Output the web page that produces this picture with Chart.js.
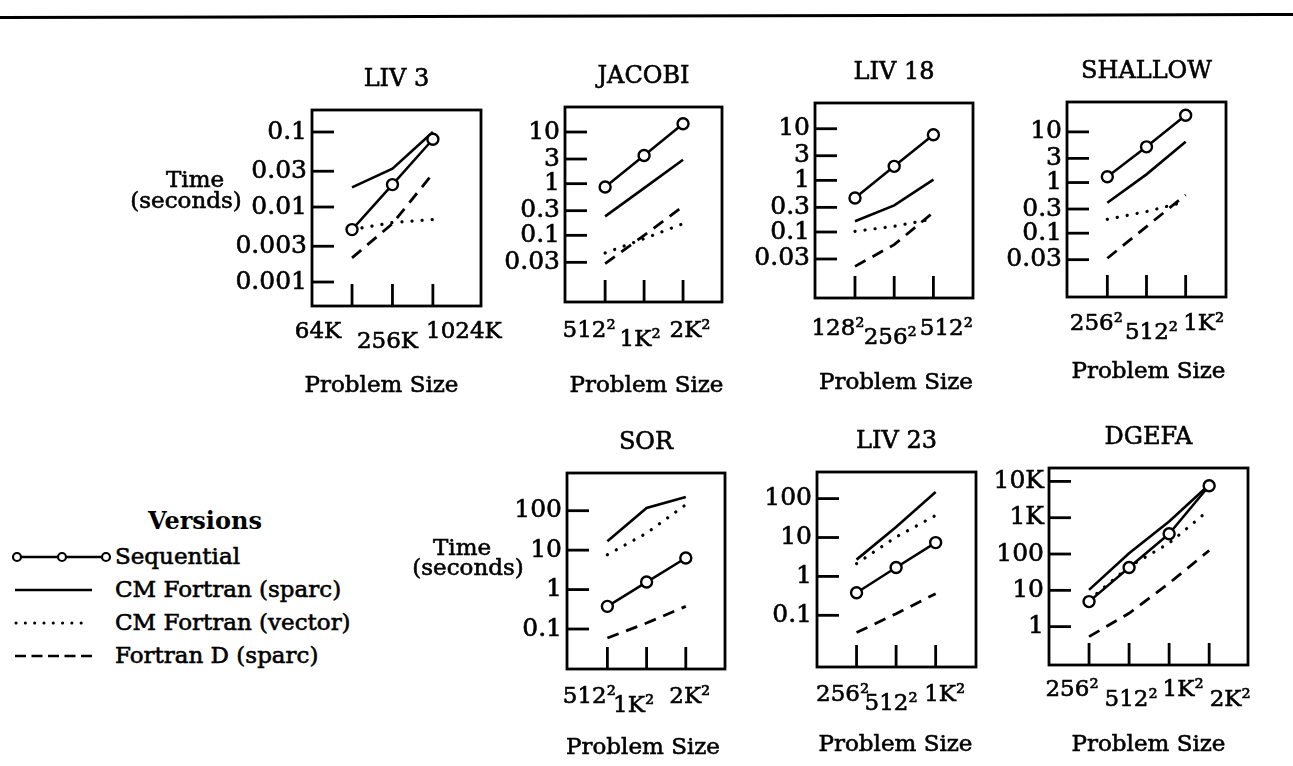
<!DOCTYPE html>
<html><head><meta charset="utf-8">
<script src="https://cdn.jsdelivr.net/npm/chart.js@4.4.1/dist/chart.umd.min.js"></script>
<style>
html,body{margin:0;padding:0;background:#fff;}
#page{position:relative;width:1293px;height:766px;overflow:hidden;background:#fff;font-family:"DejaVu Serif",serif;color:#000;}
canvas.panel{position:absolute;left:0;top:0;}
.lg{position:absolute;font-size:23px;white-space:nowrap;line-height:1;-webkit-text-stroke:0.6px #000;}
#lgTitle{position:absolute;font-size:24px;font-weight:bold;white-space:nowrap;line-height:1;}
svg{position:absolute;left:0;top:0;}
</style></head><body>
<div id="page">
<svg width="1293" height="766" id="deco">
  <line x1="0" y1="17.5" x2="1293" y2="14.5" stroke="#000" stroke-width="3"/>
  <!-- legend samples -->
  <line x1="17" y1="557" x2="106" y2="557" stroke="#000" stroke-width="2.4"/>
  <circle cx="17" cy="557" r="4" fill="#fff" stroke="#000" stroke-width="2.2"/>
  <circle cx="62" cy="557" r="4" fill="#fff" stroke="#000" stroke-width="2.2"/>
  <circle cx="106" cy="557" r="4" fill="#fff" stroke="#000" stroke-width="2.2"/>
  <line x1="15" y1="590" x2="92" y2="590" stroke="#000" stroke-width="2.6"/>
  <line x1="16" y1="623" x2="90" y2="623" stroke="#000" stroke-width="3" stroke-dasharray="0.1 9.2" stroke-linecap="round"/>
  <line x1="15" y1="656" x2="92" y2="656" stroke="#000" stroke-width="2.6" stroke-dasharray="11 5.5"/>
</svg>
<div id="lgTitle" style="left:148px;top:509px;">Versions</div>
<div class="lg" style="left:115px;top:545px;">Sequential</div>
<div class="lg" style="left:115px;top:578px;">CM Fortran (sparc)</div>
<div class="lg" style="left:115px;top:611px;">CM Fortran (vector)</div>
<div class="lg" style="left:115px;top:644px;">Fortran D (sparc)</div>
</div>
<script>
// ---------- DATA ----------
const seriesNames = ['Sequential', 'CM Fortran (sparc)', 'CM Fortran (vector)', 'Fortran D (sparc)'];

const liv3Sizes   = ['64K', '256K', '1024K'];
const liv3Seq     = [0.005, 0.0199, 0.080];
const liv3Sparc   = [0.0183, 0.0324, 0.100];
const liv3Vector  = [0.005, 0.0062, 0.0068];
const liv3FD      = [0.0021, 0.0060, 0.028];
const liv3YTicks  = [0.1, 0.03, 0.01, 0.003, 0.001];
const liv3YLabels = ['0.1', '0.03', '0.01', '0.003', '0.001'];

const jacobiSizes  = ['512²', '1K²', '2K²'];
const jacobiSeq    = [0.86, 3.5, 14.5];
const jacobiSparc  = [0.233, 0.82, 2.9];
const jacobiVector = [0.0455, 0.086, 0.168];
const jacobiFD     = [0.0283, 0.10, 0.364];

const liv18Sizes  = ['128²', '256²', '512²'];
const liv18Seq    = [0.455, 1.87, 7.65];
const liv18Sparc  = [0.161, 0.328, 1.03];
const liv18Vector = [0.103, 0.129, 0.18];
const liv18FD     = [0.0216, 0.057, 0.24];

const shallowSizes  = ['256²', '512²', '1K²'];
const shallowSeq    = [1.3, 5.07, 21.3];
const shallowSparc  = [0.40, 1.45, 6.36];
const shallowVector = [0.188, 0.267, 0.42];
const shallowFD     = [0.032, 0.135, 0.57];

const midYTicks  = [10, 3, 1, 0.3, 0.1, 0.03];
const midYLabels = ['10', '3', '1', '0.3', '0.1', '0.03'];

const sorSizes  = ['512²', '1K²', '2K²'];
const sorSeq    = [0.375, 1.55, 6.3];
const sorSparc  = [16.7, 117, 222];
const sorVector = [7.66, 27, 142];
const sorFD     = [0.059, 0.142, 0.375];

const liv23Sizes  = ['256²', '512²', '1K²'];
const liv23Seq    = [0.38, 1.7, 7.4];
const liv23Sparc  = [2.7, 18.7, 148];
const liv23Vector = [2.13, 10.3, 37];
const liv23FD     = [0.036, 0.11, 0.36];

const lowYTicks  = [100, 10, 1, 0.1];
const lowYLabels = ['100', '10', '1', '0.1'];

const dgefaSizes   = ['256²', '512²', '1K²', '2K²'];
const dgefaSeq     = [4.9, 42.4, 360, 7600];
const dgefaSparc   = [10.3, 105, 790, 8100];
const dgefaVector  = [5.4, 45, 199, 1650];
const dgefaFD      = [0.53, 2.33, 15.7, 125];
const dgefaYTicks  = [10000, 1000, 100, 10, 1];
const dgefaYLabels = ['10K', '1K', '100', '10', '1'];

// ---------- LAYOUT ----------
const FONT = '"DejaVu Serif", serif';
const W = 1293, H = 766, YAXIS_W = 100, TICK_LEN = 22, TEXT_STROKE = 0.6;
const panels = [
  {title:'LIV 3', sizes:liv3Sizes, series:[liv3Seq, liv3Sparc, liv3Vector, liv3FD], yTicks:liv3YTicks, yLabels:liv3YLabels,
   box:{l:312,t:110,r:481,b:306}, xMin:-0.99, xMax:3.19, yMin:0.000479, yMax:0.1965,
   dx:[-34,-5,31], dy:[26,36], psDx:-15, psDy:80, time:{x:195, y:181, x2:186, y2:202}},
  {title:'JACOBI', sizes:jacobiSizes, series:[jacobiSeq, jacobiSparc, jacobiVector, jacobiFD], yTicks:midYTicks, yLabels:midYLabels,
   box:{l:565,t:107,r:722,b:302}, xMin:-1.03, xMax:3.0, yMin:0.00512, yMax:30.5,
   dx:[-16,-4,7], dy:[29,38], psDx:3, psDy:84},
  {title:'LIV 18', sizes:liv18Sizes, series:[liv18Seq, liv18Sparc, liv18Vector, liv18FD], yTicks:midYTicks, yLabels:midYLabels,
   box:{l:815,t:103,r:973,b:298}, xMin:-1.02, xMax:3.01, yMin:0.00527, yMax:31.5,
   dx:[-17,-4,13], dy:[31,40], psDx:2, psDy:85},
  {title:'SHALLOW', sizes:shallowSizes, series:[shallowSeq, shallowSparc, shallowVector, shallowFD], yTicks:midYTicks, yLabels:midYLabels,
   box:{l:1067,t:102,r:1226,b:297}, xMin:-1.03, xMax:3.03, yMin:0.0055, yMax:38.9,
   dx:[-11,5,18], dy:[27,36], psDx:2, psDy:75},
  {title:'SOR', sizes:sorSizes, series:[sorSeq, sorSparc, sorVector, sorFD], yTicks:lowYTicks, yLabels:lowYLabels,
   box:{l:567,t:473,r:725,b:669}, xMin:-1.03, xMax:3.0, yMin:0.00968, yMax:904,
   dx:[-18,-13,4], dy:[28,37], psDx:-3, psDy:79, time:{x:462, y:549, x2:468, y2:569}},
  {title:'LIV 23', sizes:liv23Sizes, series:[liv23Seq, liv23Sparc, liv23Vector, liv23FD], yTicks:lowYTicks, yLabels:lowYLabels,
   box:{l:817,t:472,r:976,b:667}, xMin:-1.0, xMax:3.02, yMin:0.00469, yMax:483,
   dx:[-14,-5,9], dy:[28,37], psDx:-1, psDy:78},
  {title:'DGEFA', sizes:dgefaSizes, series:[dgefaSeq, dgefaSparc, dgefaVector, dgefaFD], yTicks:dgefaYTicks, yLabels:dgefaYLabels,
   box:{l:1049,t:468,r:1248,b:665}, xMin:-1.0, xMax:3.97, yMin:0.0878, yMax:23400,
   dx:[-17,2,14,21], dy:[25,35], psDx:0, psDy:80}
];

const styles = [
  {borderColor:'#000', borderWidth:2.5, pointRadius:5.5, pointBorderWidth:2.4, pointBackgroundColor:'#fff', pointBorderColor:'#000', pointStyle:'circle'},
  {borderColor:'#000', borderWidth:2.6, pointRadius:0},
  {borderColor:'#000', borderWidth:3.2, pointRadius:0, borderDash:[0.1, 10], borderCapStyle:'round'},
  {borderColor:'#000', borderWidth:2.8, pointRadius:0, borderDash:[12, 8]}
];

function txt(ctx, s, x, y) {
  ctx.strokeText(s, x, y);
  ctx.fillText(s, x, y);
}

function framePlugin(p) {
  return {
    id:'frame',
    afterDraw(chart) {
      const {ctx, chartArea:a, scales:{x, y}} = chart;
      ctx.save();
      ctx.strokeStyle = '#000'; ctx.fillStyle = '#000';
      ctx.lineWidth = 2.8;
      ctx.strokeRect(a.left, a.top, a.right - a.left, a.bottom - a.top);
      p.yTicks.forEach(v => {
        const py = y.getPixelForValue(v);
        ctx.beginPath(); ctx.moveTo(a.left, py); ctx.lineTo(a.left + TICK_LEN, py); ctx.stroke();
      });
      p.sizes.forEach((s, i) => {
        const px = x.getPixelForValue(i);
        ctx.beginPath(); ctx.moveTo(px, a.bottom); ctx.lineTo(px, a.bottom - TICK_LEN); ctx.stroke();
      });
      ctx.lineWidth = TEXT_STROKE;
      ctx.textAlign = 'center'; ctx.textBaseline = 'middle';
      ctx.font = '23px ' + FONT;
      p.sizes.forEach((s, i) => {
        txt(ctx, s, x.getPixelForValue(i) + p.dx[i], a.bottom + p.dy[i % 2]);
      });
      const cx = (a.left + a.right) / 2;
      ctx.font = '24px ' + FONT;
      txt(ctx, p.title, cx, a.top - 30);
      ctx.font = '23px ' + FONT;
      txt(ctx, 'Problem Size', cx + p.psDx, a.bottom + p.psDy);
      if (p.time) {
        txt(ctx, 'Time', p.time.x, p.time.y);
        txt(ctx, '(seconds)', p.time.x2, p.time.y2);
      }
      ctx.restore();
    }
  };
}

const page = document.getElementById('page');
panels.forEach(p => {
  const c = document.createElement('canvas');
  c.width = W; c.height = H; c.className = 'panel';
  page.appendChild(c);
  new Chart(c, {
    type:'line',
    data:{datasets: p.series.map((vals, k) => Object.assign({
      label: seriesNames[k],
      data: vals.map((v, i) => ({x:i, y:v})),
      fill:false, tension:0
    }, styles[k]))},
    options:{
      responsive:false, animation:false, events:[],
      layout:{padding:{left:p.box.l - YAXIS_W, top:p.box.t, right:W - p.box.r, bottom:H - p.box.b}},
      plugins:{legend:{display:false}, tooltip:{enabled:false}, title:{display:false}},
      scales:{
        x:{type:'linear', display:false, min:p.xMin, max:p.xMax, bounds:'data'},
        y:{type:'logarithmic', position:'left', min:p.yMin, max:p.yMax, bounds:'data',
           grid:{display:false, drawTicks:false}, border:{display:false},
           ticks:{autoSkip:false, padding:5, color:'#000', font:{family:FONT, size:25},
                  textStrokeColor:'#000', textStrokeWidth:TEXT_STROKE,
                  callback:(v, i) => p.yLabels[i]},
           afterBuildTicks: s => { s.ticks = p.yTicks.map(v => ({value:v})); },
           afterFit: s => { s.width = YAXIS_W; }
        }
      }
    },
    plugins:[framePlugin(p)]
  });
});
</script>
</body></html>
